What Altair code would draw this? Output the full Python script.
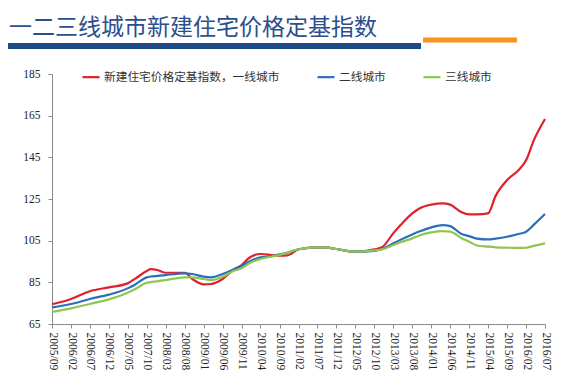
import altair as alt
import pandas as pd

# month offsets from 2005/09 at which values were read
months = [0, 5, 10, 15, 20, 22, 25, 26, 28, 30, 35, 37, 40, 42, 45, 48, 50, 52, 55, 58,
          60, 62, 65, 70, 72, 75, 80, 85, 87, 90, 92, 95, 97, 100, 103, 105, 108, 110,
          112, 115, 117, 120, 123, 125, 127, 130]

tier1 = [74.5, 77.0, 80.7, 82.6, 84.5, 86.8, 90.4, 91.3, 90.8, 89.6, 89.6, 86.6, 84.0, 84.2,
         86.6, 91.2, 93.3, 96.8, 98.6, 98.1, 97.8, 97.9, 100.9, 101.8, 101.8, 101.0, 99.7,
         100.8, 101.8, 108.5, 112.6, 118.1, 120.6, 122.3, 122.9, 122.3, 118.6, 117.6, 117.6,
         118.1, 126.5, 134.1, 138.8, 143.7, 153.0, 163.4]
tier2 = [73.0, 74.6, 77.0, 79.1, 82.1, 84.0, 87.4, 87.8, 88.1, 88.5, 89.3, 89.0, 87.7, 87.4,
         89.0, 91.3, 93.0, 95.0, 97.0, 97.5, 98.4, 99.2, 100.9, 101.8, 101.8, 101.0, 99.7,
         100.1, 101.0, 103.7, 105.5, 108.0, 109.5, 111.4, 112.5, 112.0, 108.2, 107.2, 106.0,
         105.6, 106.0, 106.9, 108.2, 109.3, 112.6, 117.8]
tier3 = [70.8, 72.5, 74.6, 76.8, 80.0, 81.8, 84.8, 85.1, 85.6, 86.1, 87.4, 87.4, 86.6, 86.1,
         87.7, 90.6, 91.7, 94.2, 96.2, 97.4, 98.1, 99.2, 100.9, 101.8, 101.8, 101.0, 99.7,
         100.3, 100.8, 102.9, 104.3, 106.1, 107.6, 109.0, 109.6, 109.3, 106.2, 104.5, 102.7,
         102.1, 101.8, 101.6, 101.5, 101.6, 102.5, 103.7]

series_names = ["新建住宅价格定基指数，一线城市", "二线城市", "三线城市"]
series_colors = ["#E0202A", "#2A70B8", "#8FC652"]
y_ticks = [65, 85, 105, 125, 145, 165, 185]
title_text = "一二三线城市新建住宅价格定基指数"


def month_date(m):
    y = 2005 + (8 + m) // 12
    mo = (8 + m) % 12 + 1
    return f"{y}-{mo:02d}-01"


x_tick_dates = [month_date(m) for m in range(0, 131, 5)]

rows = []
for name, vals in zip(series_names, [tier1, tier2, tier3]):
    for m, v in zip(months, vals):
        rows.append({"date": month_date(m), "series": name, "value": v})
df = pd.DataFrame(rows)

serif = "Liberation Serif, Noto Sans CJK SC"

lines = alt.Chart(df).mark_line(strokeWidth=2.2, interpolate="monotone").encode(
    x=alt.X("date:T",
            scale=alt.Scale(domain=[month_date(0), month_date(130)]),
            axis=alt.Axis(values=x_tick_dates, format="%Y/%m", labelAngle=90,
                          labelAlign="left", labelBaseline="middle", title=None,
                          grid=False, tickSize=4, labelPadding=4, labelFontSize=11.5,
                          labelFont=serif, labelColor="#222222", domainColor="#8a8a8a",
                          tickColor="#8a8a8a", labelOverlap=False, labelFlush=False)),
    y=alt.Y("value:Q",
            scale=alt.Scale(domain=[65, 185], nice=False, zero=False),
            axis=alt.Axis(values=y_ticks, title=None, grid=False, tickSize=4,
                          labelPadding=8, labelFontSize=11.5, labelFont=serif,
                          labelColor="#222222", domainColor="#8a8a8a", tickColor="#8a8a8a")),
    color=alt.Color("series:N",
                    scale=alt.Scale(domain=series_names, range=series_colors),
                    sort=series_names,
                    legend=alt.Legend(orient="none", legendX=29, legendY=-7,
                                      direction="horizontal", title=None,
                                      symbolType="stroke", symbolSize=289,
                                      symbolStrokeWidth=2.2, labelFont=serif,
                                      labelFontSize=11.7, labelColor="#333333",
                                      columnPadding=33, labelOffset=3, padding=0,
                                      labelLimit=400)),
)

bar_df = pd.DataFrame({"k": ["blue", "orange"]})
blue_bar = alt.Chart(bar_df.iloc[[0]]).mark_rule(color="#1F4A8A", strokeWidth=6).encode(
    x=alt.value(-47), x2=alt.value(369), y=alt.value(-28))
orange_bar = alt.Chart(bar_df.iloc[[1]]).mark_rule(color="#F7941D", strokeWidth=5).encode(
    x=alt.value(371), x2=alt.value(465), y=alt.value(-34))

chart = alt.layer(lines, blue_bar, orange_bar).properties(
    width=493, height=250,
    autosize=alt.AutoSizeParams(type="none"),
    padding={"left": 44, "top": 66, "right": 9, "bottom": 50},
    background="white",
    title=alt.TitleParams(title_text, anchor="start", frame="group", dx=-43, offset=0,
                          dy=2, font="Noto Sans CJK SC", fontSize=23, fontWeight="normal",
                          color="#2C4F8C"),
).configure_view(stroke=None)

chart.save("out.html", embed_options={"renderer": "svg", "actions": False})
